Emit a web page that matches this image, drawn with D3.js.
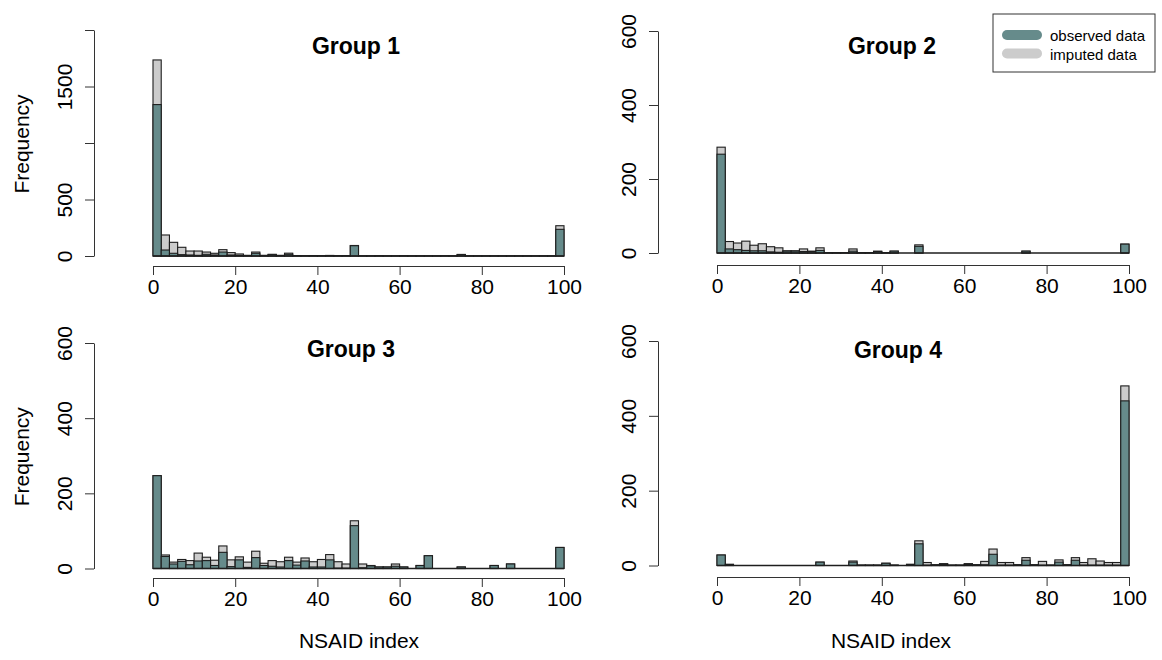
<!DOCTYPE html>
<html>
<head>
<meta charset="utf-8">
<script src="https://cdn.jsdelivr.net/npm/d3@7"></script>
<style>
  body { margin: 0; background: #fff; }
  text { font-family: "Liberation Sans", Arial, sans-serif; fill: #000; }
</style>
</head>
<body>
<script>
// bins: 50 bins of width 2 over 0..100
const binEdges = d3.range(0, 101, 2)

// observed counts per bin
const obsG1 = [1340, 53, 24, 12, 9, 6, 15, 9, 35, 9, 6, 4, 24, 4, 12, 4, 15, 3, 2, 3,
  2, 4, 2, 3, 91, 1, 1, 2, 1, 1, 2, 1, 1, 1, 1, 2, 1, 12, 1, 1,
  1, 1, 1, 1, 1, 1, 1, 1, 1, 236]
const impG1 = [395, 133, 97, 65, 35, 38, 20, 15, 21, 21, 12, 2, 11, 2, 3, 2, 10, 1, 1, 1,
  1, 1, 1, 1, 2, 0, 0, 0, 0, 0, 0, 0, 0, 0, 0, 0, 0, 2, 0, 0,
  0, 0, 0, 0, 0, 0, 0, 0, 0, 32]

const obsG2 = [267, 11, 9, 7, 6, 6, 3, 2, 5, 5, 4, 4, 7, 1, 1, 1, 5, 1, 1, 4,
  1, 5, 0, 0, 18, 0, 0, 0, 0, 0, 0, 0, 0, 0, 0, 0, 0, 5, 0, 0,
  0, 0, 0, 0, 0, 0, 0, 0, 0, 24]
const impG2 = [19, 20, 18, 25, 15, 19, 14, 12, 1, 1, 7, 1, 7, 0, 0, 0, 6, 0, 0, 1,
  0, 0, 0, 0, 4, 0, 0, 0, 0, 0, 0, 0, 0, 0, 0, 0, 0, 0, 0, 0,
  0, 0, 0, 0, 0, 0, 0, 0, 0, 0]

const obsG3 = [247, 32, 12, 19, 10, 20, 21, 8, 43, 5, 23, 3, 29, 8, 6, 4, 21, 9, 20, 4,
  4, 23, 1, 1, 114, 2, 7, 4, 4, 6, 4, 0, 8, 34, 0, 0, 0, 4, 0, 0,
  0, 8, 0, 12, 0, 0, 0, 0, 0, 56]
const impG3 = [0, 4, 5, 5, 11, 21, 9, 14, 17, 18, 8, 14, 17, 6, 15, 14, 9, 8, 8, 14,
  20, 14, 17, 11, 13, 10, 1, 0, 0, 6, 0, 0, 0, 0, 0, 0, 0, 0, 0, 0,
  0, 0, 0, 0, 0, 0, 0, 0, 0, 0]

const obsG4 = [28, 3, 0, 0, 0, 0, 0, 0, 0, 0, 0, 0, 9, 0, 0, 0, 9, 1, 1, 1,
  6, 1, 0, 3, 58, 1, 2, 3, 1, 1, 3, 2, 2, 30, 1, 1, 2, 14, 2, 1,
  1, 9, 2, 14, 1, 1, 1, 1, 1, 440]
const impG4 = [0, 0, 0, 0, 0, 0, 0, 0, 0, 0, 0, 0, 0, 0, 0, 0, 3, 0, 0, 0,
  0, 0, 0, 0, 8, 7, 0, 2, 0, 0, 2, 0, 9, 14, 7, 7, 0, 7, 0, 10,
  0, 6, 0, 7, 7, 17, 11, 7, 7, 40]

const titles = ["Group 1", "Group 2", "Group 3", "Group 4"]
const xTicks = [0, 20, 40, 60, 80, 100]
const yTicksG1 = [0, 500, 1000, 1500, 2000]
const yLabelsG1 = ["0", "500", "", "1500", ""]
const yTicksSmall = [0, 200, 400, 600]
const legendLabels = ["observed data", "imputed data"]

const teal = "#668b8b",
  grey = "#cccccc",
  edge = "#1e1e1e"

// layout per panel (pixel positions)
const panels = [
  { obs: obsG1, imp: impG1, left: 153, right: 564, base: 256, top: 30, yMax: 2000,
    yTicks: yTicksG1, yLabels: yLabelsG1, axisX: 94, xAxisY: 266,
    titleX: 356, titleY: 54, ylab: true, xlab: false },
  { obs: obsG2, imp: impG2, left: 717, right: 1129, base: 253, top: 31, yMax: 600,
    yTicks: yTicksSmall, yLabels: null, axisX: 658, xAxisY: 265,
    titleX: 892, titleY: 54, ylab: false, xlab: false },
  { obs: obsG3, imp: impG3, left: 153, right: 564, base: 568.5, top: 343, yMax: 600,
    yTicks: yTicksSmall, yLabels: null, axisX: 94, xAxisY: 578,
    titleX: 351, titleY: 357, ylab: true, xlab: true },
  { obs: obsG4, imp: impG4, left: 717, right: 1129, base: 565.5, top: 341, yMax: 600,
    yTicks: yTicksSmall, yLabels: null, axisX: 658, xAxisY: 577,
    titleX: 898, titleY: 358, ylab: false, xlab: true }
]

const svg = d3.select("body")
  .append("svg")
  .attr("width", 1162)
  .attr("height", 660)

panels.forEach((p, i) => {
  const x = d3.scaleLinear().domain([0, 100]).range([p.left, p.right])
  const y = d3.scaleLinear().domain([0, p.yMax]).range([p.base, p.top])

  const bins = p.obs.map((o, k) => ({
    x0: binEdges[k],
    x1: binEdges[k + 1],
    obs: o,
    total: o + p.imp[k]
  }))

  const g = svg.append("g")

  // all data (grey) first, observed drawn over it
  g.selectAll(".tot")
    .data(bins.filter(d => d.total > 0))
    .join("rect")
    .attr("x", d => x(d.x0))
    .attr("width", d => x(d.x1) - x(d.x0))
    .attr("y", d => y(d.total))
    .attr("height", d => y(0) - y(d.total))
    .attr("fill", grey)
    .attr("stroke", edge)
    .attr("stroke-width", 1.1)

  g.selectAll(".obs")
    .data(bins.filter(d => d.obs > 0))
    .join("rect")
    .attr("x", d => x(d.x0))
    .attr("width", d => x(d.x1) - x(d.x0))
    .attr("y", d => y(d.obs))
    .attr("height", d => y(0) - y(d.obs))
    .attr("fill", teal)
    .attr("stroke", edge)
    .attr("stroke-width", 1.1)

  // zero-height bars show as a line on the baseline
  g.append("line")
    .attr("x1", x(0)).attr("x2", x(100))
    .attr("y1", y(0)).attr("y2", y(0))
    .attr("stroke", edge)
    .attr("stroke-width", 1.3)

  // x axis
  const xa = g.append("g")
    .attr("transform", `translate(0,${p.xAxisY})`)
    .call(d3.axisBottom(x).tickValues(xTicks).tickSize(9).tickSizeOuter(0).tickPadding(4))
  xa.selectAll("text").style("font-size", "21px").attr("dy", "0.71em")
  xa.selectAll("line, path").attr("stroke", "#333")

  // y axis
  const ya = g.append("g")
    .attr("transform", `translate(${p.axisX},0)`)
    .call(d3.axisLeft(y).tickValues(p.yTicks).tickSize(9).tickSizeOuter(0)
      .tickFormat((d, k) => p.yLabels ? p.yLabels[k] : d))
  ya.selectAll("line, path").attr("stroke", "#333")
  ya.selectAll("text")
    .style("font-size", "21px")
    .attr("transform", "rotate(-90)")
    .attr("x", 0)
    .attr("y", -22)
    .attr("dy", 0)
    .attr("text-anchor", "middle")

  // title
  svg.append("text")
    .attr("x", p.titleX)
    .attr("y", p.titleY)
    .attr("text-anchor", "middle")
    .style("font-size", "23px")
    .style("font-weight", "bold")
    .text(titles[i])

  if (p.ylab) {
    svg.append("text")
      .attr("transform", `translate(29,${(p.base + p.top) / 2 + 1}) rotate(-90)`)
      .attr("text-anchor", "middle")
      .style("font-size", "21px")
      .text("Frequency")
  }
  if (p.xlab) {
    svg.append("text")
      .attr("x", i === 2 ? 359 : 891)
      .attr("y", 648)
      .attr("text-anchor", "middle")
      .style("font-size", "21px")
      .text("NSAID index")
  }
})

// legend
const legend = svg.append("g")
legend.append("rect")
  .attr("x", 993).attr("y", 14)
  .attr("width", 162).attr("height", 58)
  .attr("fill", "#fff")
  .attr("stroke", "#333")
  .attr("stroke-width", 1)

const legendColors = [teal, grey]
legend.selectAll(".sw")
  .data(legendLabels)
  .join("line")
  .attr("x1", 1007).attr("x2", 1037)
  .attr("y1", (_d, k) => 35 + k * 18.5)
  .attr("y2", (_d, k) => 35 + k * 18.5)
  .attr("stroke", (_d, k) => legendColors[k])
  .attr("stroke-width", 10)
  .attr("stroke-linecap", "round")

legend.selectAll(".lt")
  .data(legendLabels)
  .join("text")
  .attr("x", 1050)
  .attr("y", (_d, k) => 41 + k * 18.5)
  .style("font-size", "15px")
  .text(d => d)
</script>
</body>
</html>
